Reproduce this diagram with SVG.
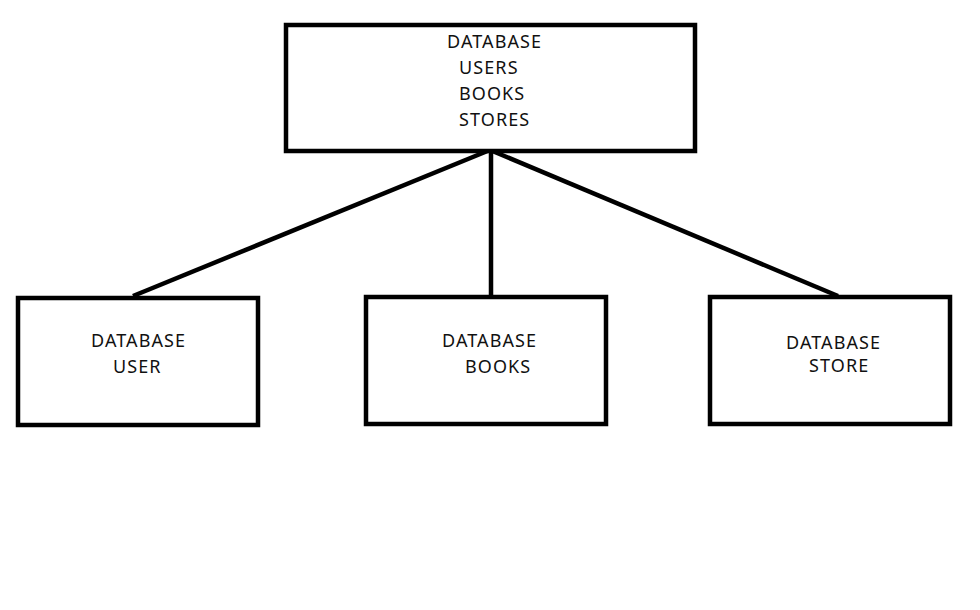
<svg xmlns="http://www.w3.org/2000/svg" width="980" height="610" viewBox="0 0 980 610">
<style>
.box{fill:#fff;stroke:#000;stroke-width:4.5}
.lbl{font-family:"Noto Sans","DejaVu Sans",sans-serif;font-size:18px;fill:#111;letter-spacing:1.1px}
.edge{stroke:#000;stroke-width:4.5;fill:none}
</style>
<rect width="980" height="610" fill="#fff"/>
<g id="connectors">
<line class="edge" x1="490" y1="150" x2="133" y2="296"/>
<line class="edge" x1="491" y1="150" x2="491" y2="296"/>
<line class="edge" x1="490" y1="150" x2="838" y2="296"/>
</g>
<g id="node-database">
<rect class="box" x="286" y="25" width="409" height="126"/>
<text class="lbl" x="447" y="48">DATABASE</text>
<text class="lbl" x="459" y="74">USERS</text>
<text class="lbl" x="459" y="100">BOOKS</text>
<text class="lbl" x="459" y="126">STORES</text>
</g>
<g id="node-user">
<rect class="box" x="18" y="298" width="240" height="127"/>
<text class="lbl" x="91" y="347">DATABASE</text>
<text class="lbl" x="113" y="373">USER</text>
</g>
<g id="node-books">
<rect class="box" x="366" y="297" width="240" height="127"/>
<text class="lbl" x="442" y="347">DATABASE</text>
<text class="lbl" x="465" y="373">BOOKS</text>
</g>
<g id="node-store">
<rect class="box" x="710" y="297" width="240" height="127"/>
<text class="lbl" x="786" y="349">DATABASE</text>
<text class="lbl" x="809" y="372">STORE</text>
</g>
</svg>
